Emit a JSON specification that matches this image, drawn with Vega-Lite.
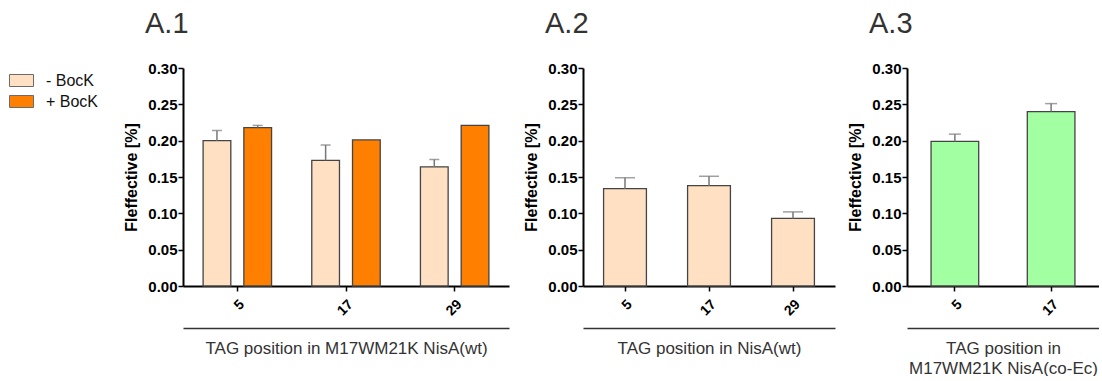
{
  "$schema": "https://vega.github.io/schema/vega-lite/v6.json",
  "padding": {"left": 9, "top": 10, "right": 0, "bottom": 0},
  "background": "white",
  "config": {
    "view": {"stroke": null},
    "font": "Liberation Sans",
    "axis": {"grid": false, "labelFont": "Liberation Sans", "titleFont": "Liberation Sans", "domainColor": "#000", "tickColor": "#000", "labelColor": "#000", "titleColor": "#000"},
    "axisY": {"titleFontSize": 16, "titleFontWeight": "bold", "titlePadding": 8, "values": [0, 0.05, 0.1, 0.15, 0.2, 0.25, 0.3], "format": ".2f", "labelFontSize": 15, "labelFontWeight": "bold", "labelPadding": 1, "tickSize": 5, "tickWidth": 1.5, "domainWidth": 2},
    "title": {"fontSize": 29, "font": "Liberation Sans", "fontWeight": "normal", "color": "#333333", "anchor": "start", "frame": "group", "dx": -38, "offset": 22}
  },
  "spacing": 14,
  "hconcat": [
    {
      "title": "A.1",
      "width": 326,
      "height": 218,
      "data": {"values": [
        {"pos": "5", "bock": "- BocK", "fi": 0.200, "hi": 0.214},
        {"pos": "17", "bock": "- BocK", "fi": 0.173, "hi": 0.194},
        {"pos": "29", "bock": "- BocK", "fi": 0.164, "hi": 0.174},
        {"pos": "5", "bock": "+ BocK", "fi": 0.218, "hi": 0.221},
        {"pos": "17", "bock": "+ BocK", "fi": 0.201, "hi": null},
        {"pos": "29", "bock": "+ BocK", "fi": 0.221, "hi": null}
      ]},
      "resolve": {"axis": {"x": "independent"}},
      "layer": [
        {
          "mark": {"type": "bar", "stroke": "#444444", "strokeWidth": 1.3},
          "encoding": {
            "x": {"field": "pos", "type": "ordinal", "sort": ["5", "17", "29"], "scale": {"paddingInner": 0.37, "paddingOuter": 0.185},
              "axis": {"title": null, "labelAngle": -45, "labelFontWeight": "bold", "labelFontSize": 14, "tickSize": 5, "tickWidth": 1.5, "domainWidth": 2, "labelPadding": 6}},
            "xOffset": {"field": "bock", "sort": ["- BocK", "+ BocK"], "scale": {"paddingInner": 0.32}},
            "y": {"field": "fi", "type": "quantitative", "scale": {"domain": [0, 0.3]}, "axis": {"title": "FIeffective [%]"}},
            "color": {"field": "bock", "type": "nominal", "scale": {"domain": ["- BocK", "+ BocK"], "range": ["#FFE0C2", "#FF8000"]},
              "legend": {"orient": "none", "legendX": -174, "legendY": 0, "title": null, "padding": 0, "symbolType": "M-1,-0.5H1V0.5H-1Z", "symbolSize": 576, "symbolStrokeColor": "#6b6b6b", "symbolStrokeWidth": 1, "symbolOpacity": 1, "labelFontSize": 16, "labelFont": "Liberation Sans", "labelColor": "#111", "labelOffset": 12, "rowPadding": -1}}
          }
        },
        {
          "transform": [{"filter": "datum.hi != null"}],
          "mark": {"type": "rule", "color": "#777777", "strokeWidth": 1.5},
          "encoding": {
            "x": {"field": "pos", "type": "ordinal", "sort": ["5", "17", "29"], "axis": null},
            "xOffset": {"field": "bock", "sort": ["- BocK", "+ BocK"]},
            "y": {"field": "fi", "type": "quantitative", "axis": {"title": "FIeffective [%]"}},
            "y2": {"field": "hi"}
          }
        },
        {
          "transform": [{"filter": "datum.hi != null"}],
          "mark": {"type": "tick", "color": "#777777", "thickness": 1.5, "size": 10},
          "encoding": {
            "x": {"field": "pos", "type": "ordinal", "sort": ["5", "17", "29"],
              "axis": {"orient": "bottom", "offset": 42, "labels": false, "ticks": false, "domainColor": "#333", "domainWidth": 1.5, "title": "TAG position in M17WM21K NisA(wt)", "titleFontSize": 17, "titleFontWeight": "normal", "titleColor": "#333", "titlePadding": 12}},
            "xOffset": {"field": "bock", "sort": ["- BocK", "+ BocK"]},
            "y": {"field": "hi", "type": "quantitative", "axis": {"title": "FIeffective [%]"}}
          }
        }
      ]
    },
    {
      "spacing": 12,
      "hconcat": [
        {
          "title": "A.2",
          "width": 252,
          "height": 218,
          "data": {"values": [
            {"pos": "5", "fi": 0.134, "hi": 0.149},
            {"pos": "17", "fi": 0.138, "hi": 0.151},
            {"pos": "29", "fi": 0.093, "hi": 0.102}
          ]},
          "resolve": {"axis": {"x": "independent"}},
          "layer": [
            {
              "mark": {"type": "bar", "fill": "#FFE0C2", "stroke": "#444444", "strokeWidth": 1.3},
              "encoding": {
                "x": {"field": "pos", "type": "ordinal", "sort": ["5", "17", "29"], "scale": {"paddingInner": 0.49, "paddingOuter": 0.245},
                  "axis": {"title": null, "labelAngle": -45, "labelFontWeight": "bold", "labelFontSize": 14, "tickSize": 5, "tickWidth": 1.5, "domainWidth": 2, "labelPadding": 6}},
                "y": {"field": "fi", "type": "quantitative", "scale": {"domain": [0, 0.3]}, "axis": {"title": "FIeffective [%]"}}
              }
            },
            {
              "mark": {"type": "rule", "color": "#777777", "strokeWidth": 1.5},
              "encoding": {
                "x": {"field": "pos", "type": "ordinal", "sort": ["5", "17", "29"], "axis": null},
                "y": {"field": "fi", "type": "quantitative", "axis": {"title": "FIeffective [%]"}},
                "y2": {"field": "hi"}
              }
            },
            {
              "mark": {"type": "tick", "color": "#777777", "thickness": 1.5, "size": 20},
              "encoding": {
                "x": {"field": "pos", "type": "ordinal", "sort": ["5", "17", "29"],
                  "axis": {"orient": "bottom", "offset": 42, "labels": false, "ticks": false, "domainColor": "#333", "domainWidth": 1.5, "title": "TAG position in NisA(wt)", "titleFontSize": 17, "titleFontWeight": "normal", "titleColor": "#333", "titlePadding": 12}},
                "y": {"field": "hi", "type": "quantitative", "axis": {"title": "FIeffective [%]"}}
              }
            }
          ]
        },
        {
          "title": "A.3",
          "width": 192,
          "height": 218,
          "data": {"values": [
            {"pos": "5", "fi": 0.199, "hi": 0.209},
            {"pos": "17", "fi": 0.240, "hi": 0.251}
          ]},
          "resolve": {"axis": {"x": "independent"}},
          "layer": [
            {
              "mark": {"type": "bar", "fill": "#A2FFA2", "stroke": "#444444", "strokeWidth": 1.3},
              "encoding": {
                "x": {"field": "pos", "type": "ordinal", "sort": ["5", "17"], "scale": {"paddingInner": 0.505, "paddingOuter": 0.25},
                  "axis": {"title": null, "labelAngle": -45, "labelFontWeight": "bold", "labelFontSize": 14, "tickSize": 5, "tickWidth": 1.5, "domainWidth": 2, "labelPadding": 6}},
                "y": {"field": "fi", "type": "quantitative", "scale": {"domain": [0, 0.3]}, "axis": {"title": "FIeffective [%]"}}
              }
            },
            {
              "mark": {"type": "rule", "color": "#777777", "strokeWidth": 1.5},
              "encoding": {
                "x": {"field": "pos", "type": "ordinal", "sort": ["5", "17"], "axis": null},
                "y": {"field": "fi", "type": "quantitative", "axis": {"title": "FIeffective [%]"}},
                "y2": {"field": "hi"}
              }
            },
            {
              "mark": {"type": "tick", "color": "#777777", "thickness": 1.5, "size": 12},
              "encoding": {
                "x": {"field": "pos", "type": "ordinal", "sort": ["5", "17"],
                  "axis": {"orient": "bottom", "offset": 42, "labels": false, "ticks": false, "domainColor": "#333", "domainWidth": 1.5, "title": ["TAG position in", "M17WM21K NisA(co-Ec)"], "titleFontSize": 17, "titleFontWeight": "normal", "titleColor": "#333", "titlePadding": 12, "titleLineHeight": 20}},
                "y": {"field": "hi", "type": "quantitative", "axis": {"title": "FIeffective [%]"}}
              }
            }
          ]
        }
      ]
    }
  ]
}
